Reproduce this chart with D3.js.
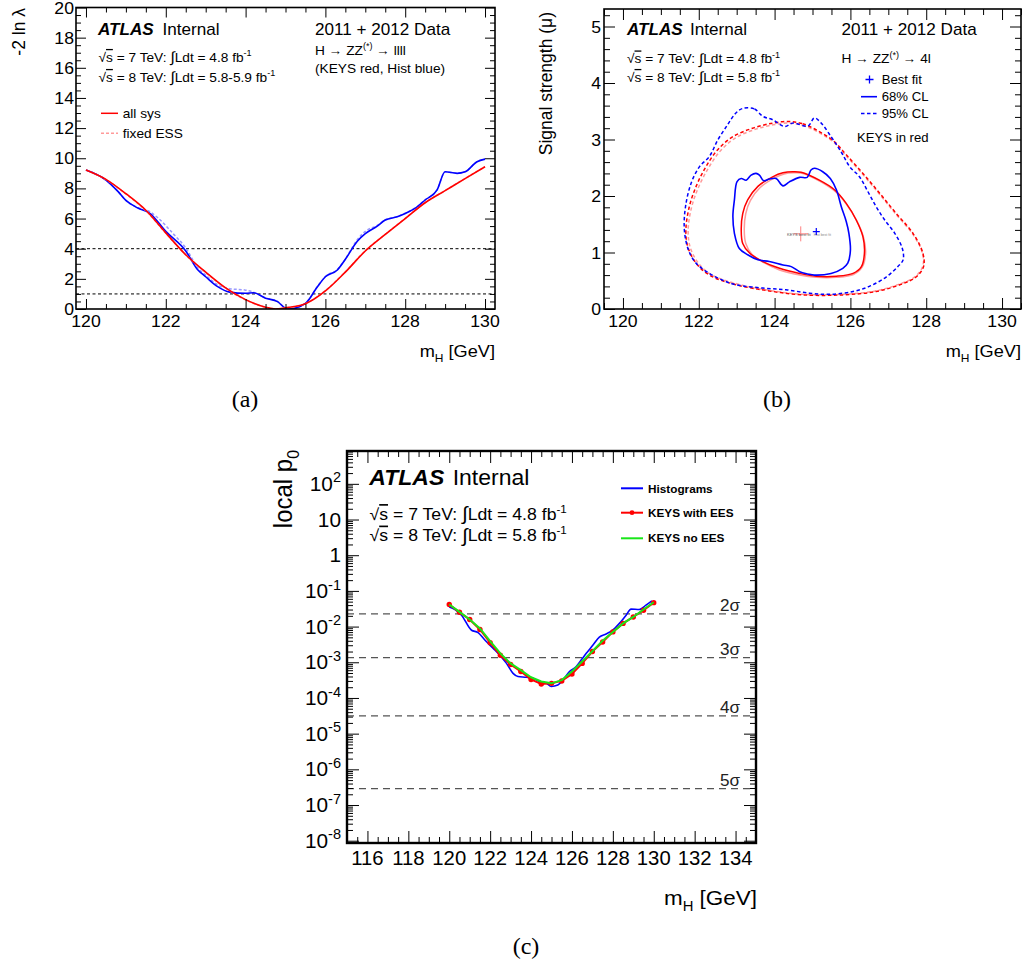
<!DOCTYPE html>
<html><head><meta charset="utf-8">
<script src="https://cdn.jsdelivr.net/npm/d3@7"></script>
<style>
body{margin:0;background:#fff}
svg{display:block}
text{font-family:"Liberation Sans",Arial,Helvetica,sans-serif}
</style>
</head><body>
<svg id="fig" width="1028" height="967"></svg>
<script>
// ---------------- (a) profile likelihood scan, -2 ln lambda vs mH ----------------
const scanKeysAllSys = [[120,9.22],[120.5,8.6],[121,7.65],[121.5,6.55],[122,5.05],[122.5,3.6],[123,2.45],[123.5,1.4],[124,0.62],[124.5,0.12],[124.75,0.0],[125,0.08],[125.5,0.35],[126,1.2],[126.5,2.45],[127,3.85],[127.5,4.95],[128,6.0],[128.5,7.05],[129,7.85],[129.5,8.65],[130,9.44]];
const scanKeysFixedESS = [[120,9.22],[120.5,8.58],[121,7.62],[121.5,6.52],[122,5.02],[122.5,3.58],[123,2.42],[123.5,1.38],[124,0.6],[124.5,0.12],[124.75,0.0],[125,0.08],[125.5,0.36],[126,1.22],[126.5,2.47],[127,3.87],[127.5,4.95],[128,6.02],[128.5,7.06],[129,7.86],[129.5,8.66],[130,9.44]];
const scanHistAllSys = [[120,9.22],[120.5,8.55],[120.8,7.8],[121,7.2],[121.3,6.7],[121.6,6.35],[122,5.15],[122.5,3.85],[122.8,2.6],[123,2.14],[123.3,1.48],[123.6,1.12],[124,1.04],[124.2,1.08],[124.5,0.72],[124.8,0.49],[125,0.05],[125.1,0.0],[125.5,0.37],[125.8,1.48],[126,2.14],[126.3,2.59],[126.5,3.3],[126.8,4.5],[127,5.0],[127.3,5.5],[127.5,5.9],[127.8,6.12],[128,6.34],[128.3,6.78],[128.5,7.23],[128.8,7.9],[129,9.1],[129.3,9.0],[129.5,9.1],[129.8,9.77],[130,9.94]];
const scanHistFixedESS = [[120,9.22],[120.5,8.55],[120.8,7.8],[121,7.2],[121.3,6.72],[121.6,6.45],[121.8,6.05],[122.2,4.95],[122.5,4.05],[122.8,2.75],[123,2.25],[123.3,1.6],[123.6,1.35],[124,1.25],[124.2,1.12],[124.5,0.74],[124.8,0.5],[125,0.06],[125.1,0.0],[125.5,0.38],[125.8,1.5],[126,2.16],[126.3,2.62],[126.5,3.32],[126.8,4.6],[127,5.15],[127.3,5.55],[127.5,5.92],[127.8,6.13],[128,6.35],[128.3,6.8],[128.5,7.25],[128.8,7.92],[129,9.1],[129.3,9.02],[129.5,9.1],[129.8,9.78],[130,9.95]];
const scanReferenceLevels = [4, 1];

// ---------------- (b) signal strength vs mH contours ----------------
const histContour68 = [[123.01,2.255],[123.12,2.31],[123.25,2.28],[123.38,2.37],[123.51,2.40],[123.6,2.37],[123.71,2.27],[123.86,2.30],[124.04,2.31],[124.22,2.18],[124.39,2.25],[124.66,2.33],[124.86,2.33],[124.96,2.46],[125.05,2.49],[125.27,2.43],[125.47,2.31],[125.63,2.11],[125.76,1.81],[125.89,1.55],[125.96,1.34],[126.0,1.04],[125.93,0.81],[125.8,0.72],[125.49,0.63],[125.05,0.60],[124.88,0.62],[124.66,0.66],[124.44,0.75],[124.22,0.78],[123.86,0.84],[123.56,0.87],[123.29,0.96],[123.07,1.07],[122.94,1.34],[122.9,1.64],[122.94,1.93]];
const histContour95 = [[123.16,3.55],[123.47,3.54],[123.69,3.41],[123.95,3.35],[124.26,3.23],[124.48,3.29],[124.88,3.24],[125.05,3.38],[125.23,3.29],[125.49,3.05],[125.67,2.87],[125.8,2.73],[125.98,2.52],[126.24,2.34],[126.46,2.08],[126.68,1.81],[126.9,1.58],[127.17,1.34],[127.37,1.07],[127.39,0.87],[127.25,0.75],[126.95,0.57],[126.5,0.40],[126.07,0.31],[125.45,0.26],[124.92,0.28],[124.3,0.34],[123.69,0.37],[122.98,0.43],[122.63,0.51],[122.28,0.63],[121.93,0.81],[121.73,1.04],[121.62,1.40],[121.65,1.81],[121.8,2.23],[122.02,2.52],[122.28,2.70],[122.5,2.99],[122.76,3.26],[122.98,3.47]];
const keysContour68 = [[124.48,2.43],[124.7,2.42],[125.18,2.28],[125.58,2.11],[125.89,1.87],[126.15,1.58],[126.33,1.28],[126.37,0.99],[126.29,0.75],[126.07,0.63],[125.63,0.58],[125.1,0.58],[124.66,0.63],[124.13,0.72],[123.69,0.84],[123.34,0.99],[123.16,1.16],[123.12,1.40],[123.16,1.69],[123.29,1.93],[123.56,2.17],[123.95,2.34],[124.22,2.41]];
const keysContour68Alt = [[124.5,2.41],[124.75,2.40],[125.2,2.26],[125.6,2.08],[125.9,1.85],[126.17,1.56],[126.35,1.26],[126.4,0.98],[126.31,0.74],[126.08,0.61],[125.63,0.56],[125.1,0.56],[124.66,0.60],[124.13,0.69],[123.72,0.82],[123.4,0.97],[123.24,1.16],[123.2,1.40],[123.24,1.69],[123.36,1.92],[123.62,2.15],[124.0,2.32],[124.25,2.39]];
const keysContour95 = [[124.35,3.32],[124.74,3.28],[125.18,3.14],[125.58,2.96],[125.89,2.73],[126.33,2.40],[126.77,2.05],[127.21,1.69],[127.65,1.34],[127.91,0.99],[127.93,0.75],[127.74,0.57],[127.39,0.45],[126.68,0.31],[125.8,0.25],[124.74,0.25],[123.86,0.32],[122.98,0.43],[122.28,0.60],[121.93,0.81],[121.71,1.10],[121.66,1.40],[121.75,1.81],[121.93,2.17],[122.19,2.52],[122.5,2.82],[122.9,3.05],[123.42,3.20],[123.95,3.29]];
const keysContour95Alt = [[124.35,3.29],[124.74,3.25],[125.18,3.12],[125.58,2.94],[125.89,2.71],[126.33,2.38],[126.77,2.03],[127.21,1.67],[127.65,1.32],[127.9,0.99],[127.91,0.76],[127.72,0.58],[127.37,0.46],[126.66,0.32],[125.8,0.26],[124.74,0.26],[123.86,0.33],[122.98,0.45],[122.3,0.62],[121.97,0.83],[121.77,1.10],[121.72,1.40],[121.81,1.80],[121.99,2.15],[122.25,2.49],[122.56,2.79],[122.95,3.02],[123.45,3.17],[123.96,3.26]];
const histBestFit = [125.1, 1.37];
const keysBestFit = [124.69, 1.33];

// ---------------- (c) local p0 vs mH ----------------
const pMassKeys = [120,120.5,121,121.5,122,122.5,123,123.5,124,124.5,125,125.5,126,126.5,127,127.5,128,128.5,129,129.5,130];
const p0KeysWithEES = [0.0417,0.0251,0.0158,0.0083,0.00355,0.00158,0.00087,0.00055,0.00033,0.000245,0.000257,0.0003,0.00047,0.00093,0.0020,0.0037,0.0071,0.0123,0.0186,0.0288,0.0468];
const p0KeysNoEES = [0.0417,0.0259,0.0158,0.0089,0.0039,0.00178,0.00093,0.0006,0.00038,0.00029,0.000257,0.000316,0.00055,0.00105,0.00204,0.0040,0.0071,0.0123,0.0186,0.030,0.048];
const pMassHist = [120.0,120.28,120.6,121.09,121.41,121.74,122.15,122.47,122.8,123.12,123.36,123.77,124.09,124.42,124.75,124.99,125.31,125.56,125.88,126.21,126.45,126.7,127.02,127.34,127.67,127.99,128.32,128.65,128.89,129.29,129.62,129.91];
const p0Hist = [0.0355,0.0302,0.0209,0.0079,0.0068,0.0042,0.00245,0.00158,0.00093,0.00049,0.0004,0.00038,0.000355,0.00029,0.000257,0.00021,0.00023,0.000316,0.00055,0.00076,0.00115,0.00178,0.003,0.0051,0.0062,0.0079,0.0123,0.0209,0.0309,0.0302,0.0398,0.0525];
const sigmaLabels = ["2σ","3σ","4σ","5σ"];
const sigmaPValues = [0.02275, 0.00135, 3.167e-5, 2.867e-7];

// tick labels
const massTicksAB = [120,122,124,126,128,130];
const scanTicks = [0,2,4,6,8,10,12,14,16,18,20];
const muTicks = [0,1,2,3,4,5];
const massTicksC = [116,118,120,122,124,126,128,130,132,134];
const pDecades = [2,1,0,-1,-2,-3,-4,-5,-6,-7,-8];

// ---------------- drawing ----------------
const svg = d3.select('#fig');
const SX = 1.07;
const SERIF = '"Liberation Serif","DejaVu Serif",serif';
const BLUE = '#0000ff', RED = '#ff0000', PINK = '#ff9a9a', LBLUE = '#9a9aff', GREEN = '#19e619';

// text with super/subscripts, overline and an enlarged integral sign
function rich(parent, x, y, size, parts, opt = {}) {
  const sc = opt.rotate ? `rotate(-90) scale(1,${opt.sx ?? SX})` : `scale(${opt.sx ?? SX},1)`;
  const t = parent.append('text')
    .attr('transform', `translate(${x},${y}) ${sc}`)
    .attr('font-size', size)
    .attr('text-anchor', opt.anchor || 'start')
    .attr('fill', opt.fill || '#000');
  if (opt.family) t.style('font-family', opt.family);
  if (opt.weight) t.attr('font-weight', opt.weight);
  let shift = 0;
  parts.forEach(p => {
    const [s, k] = Array.isArray(p) ? p : [p, 'n'];
    const ts = t.append('tspan').text(s);
    let target = 0, fs = size;
    if (k === 'sup') { target = -0.42 * size; fs = (opt.supScale || 0.66) * size; }
    if (k === 'sub') { target = 0.28 * size; fs = 0.66 * size; }
    if (k === 'big') { target = 0.05 * size; fs = 1.15 * size; }
    if (target !== shift) ts.attr('dy', target - shift);
    if (fs !== size) ts.attr('font-size', fs);
    if (k === 'bi') ts.attr('font-weight', 'bold').attr('font-style', 'italic');
    if (k === 'ov') ts.attr('text-decoration', 'overline');
    shift = target;
  });
  return t;
}

function minorValues(domain, step, majors) {
  const out = [];
  const start = Math.ceil(domain[0] / step - 1e-9) * step;
  for (let v = start; v <= domain[1] + 1e-9; v += step) {
    if (!majors.some(m => Math.abs(m - v) < 1e-6)) out.push(+v.toFixed(6));
  }
  return out;
}

// inward ticks on all four sides using d3 axes
function frameAxes(g, x, y, xMaj, xMin, yMaj, yMin, majLen, minLen) {
  const [x0, x1] = x.range(), [y0, y1] = y.range();
  const put = (axis, tx, ty) => g.append('g').attr('transform', `translate(${tx},${ty})`)
    .call(axis).call(s => s.select('.domain').remove()).call(s => s.selectAll('text').remove());
  put(d3.axisBottom(x).tickValues(xMaj).tickSize(-majLen).tickFormat(''), 0, y0);
  put(d3.axisBottom(x).tickValues(xMin).tickSize(-minLen).tickFormat(''), 0, y0);
  put(d3.axisTop(x).tickValues(xMaj).tickSize(-majLen).tickFormat(''), 0, y1);
  put(d3.axisTop(x).tickValues(xMin).tickSize(-minLen).tickFormat(''), 0, y1);
  put(d3.axisLeft(y).tickValues(yMaj).tickSize(-majLen).tickFormat(''), x0, 0);
  put(d3.axisLeft(y).tickValues(yMin).tickSize(-minLen).tickFormat(''), x0, 0);
  put(d3.axisRight(y).tickValues(yMaj).tickSize(-majLen).tickFormat(''), x1, 0);
  put(d3.axisRight(y).tickValues(yMin).tickSize(-minLen).tickFormat(''), x1, 0);
}

function panelFrame(id, x, y, width) {
  const [x0, x1] = x.range(), [y0, y1] = y.range();
  svg.append('clipPath').attr('id', id).append('rect')
    .attr('x', x0).attr('y', y1).attr('width', x1 - x0).attr('height', y0 - y1);
  return () => svg.append('rect').attr('x', x0).attr('y', y1).attr('width', x1 - x0).attr('height', y0 - y1)
    .attr('fill', 'none').attr('stroke', '#000').attr('stroke-width', width);
}

function sqrtS(energy, lumi) {
  return [['√', 'n'], ['s', 'ov'], ` = ${energy} TeV: `, ['∫', 'big'], `Ldt = ${lumi} fb`, ['-1', 'sup']];
}

// ======== panel (a) ========
{
  const x = d3.scaleLinear().domain([119.75, 130.25]).range([76, 495]);
  const y = d3.scaleLinear().domain([0, 20]).range([309, 7.5]);
  const drawFrame = panelFrame('clipA', x, y, 1.6);
  const g = svg.append('g');
  const plot = g.append('g').attr('clip-path', 'url(#clipA)');

  // reference levels
  plot.selectAll('line.ref').data(scanReferenceLevels).join('line')
    .attr('x1', x.range()[0]).attr('x2', x.range()[1])
    .attr('y1', d => y(d)).attr('y2', d => y(d))
    .attr('stroke', '#000').attr('stroke-width', 1).attr('stroke-dasharray', '3,2.5');

  const line = d3.line().x(d => x(d[0])).y(d => y(d[1])).curve(d3.curveMonotoneX);
  plot.append('path').datum(scanHistFixedESS).attr('d', line).attr('fill', 'none')
    .attr('stroke', LBLUE).attr('stroke-width', 1.5).attr('stroke-dasharray', '3,2');
  plot.append('path').datum(scanHistAllSys).attr('d', line).attr('fill', 'none')
    .attr('stroke', BLUE).attr('stroke-width', 1.6);
  plot.append('path').datum(scanKeysFixedESS).attr('d', line).attr('fill', 'none')
    .attr('stroke', PINK).attr('stroke-width', 1.5).attr('stroke-dasharray', '3,2');
  plot.append('path').datum(scanKeysAllSys).attr('d', line).attr('fill', 'none')
    .attr('stroke', RED).attr('stroke-width', 1.6);

  frameAxes(g, x, y, massTicksAB, minorValues(x.domain(), 0.5, massTicksAB),
    scanTicks, minorValues(y.domain(), 0.5, scanTicks), 10, 5);
  drawFrame();

  massTicksAB.forEach(v => rich(g, x(v), 327, 16.5, [String(v)], { anchor: 'middle' }));
  scanTicks.forEach(v => rich(g, 74, y(v) + 6, 16.5, [String(v)], { anchor: 'end' }));

  rich(g, 25, 8, 17.5, ['-2 ln λ'], { rotate: true, anchor: 'end' });
  rich(g, 495, 357, 17, ['m', ['H', 'sub'], ' [GeV]'], { anchor: 'end' });

  rich(g, 98, 34.5, 16, [['ATLAS', 'bi']]);
  rich(g, 162.5, 34.5, 16, ['Internal']);
  rich(g, 98.5, 61.5, 12.8, sqrtS(7, '4.8'));
  rich(g, 98.5, 81.5, 12.8, sqrtS(8, '5.8-5.9'));
  rich(g, 315, 35, 16, ['2011 + 2012 Data']);
  rich(g, 315, 54.5, 12.8, ['H → ZZ', ['(*)', 'sup'], ' → llll']);
  rich(g, 315, 73, 12.8, ['(KEYS red, Hist blue)']);

  // legend
  g.append('line').attr('x1', 101).attr('x2', 118).attr('y1', 113.3).attr('y2', 113.3)
    .attr('stroke', RED).attr('stroke-width', 1.5);
  rich(g, 122.7, 117.5, 12.8, ['all sys']);
  g.append('line').attr('x1', 101).attr('x2', 118).attr('y1', 133.3).attr('y2', 133.3)
    .attr('stroke', PINK).attr('stroke-width', 1.5).attr('stroke-dasharray', '3,2');
  rich(g, 122.7, 138, 12.8, ['fixed ESS']);

  rich(svg, 245, 407, 24, ['(a)'], { anchor: 'middle', family: SERIF, sx: 1 });
}

// ======== panel (b) ========
{
  const x = d3.scaleLinear().domain([119.5, 130.5]).range([604, 1021]);
  const y = d3.scaleLinear().domain([0, 5.31]).range([309, 9]);
  const drawFrame = panelFrame('clipB', x, y, 1.6);
  const g = svg.append('g');
  const plot = g.append('g').attr('clip-path', 'url(#clipB)');
  const loop = d3.line().x(d => x(d[0])).y(d => y(d[1])).curve(d3.curveCatmullRomClosed.alpha(0.5));

  const contour = (data, color, dashed, w) => plot.append('path').datum(data).attr('d', loop)
    .attr('fill', 'none').attr('stroke', color).attr('stroke-width', w)
    .attr('stroke-dasharray', dashed ? '3.5,2.5' : null);
  contour(keysContour95Alt, PINK, true, 1.5);
  contour(keysContour95, RED, true, 1.5);
  contour(histContour95, BLUE, true, 1.5);
  contour(keysContour68Alt, PINK, false, 1.5);
  contour(keysContour68, RED, false, 1.5);
  contour(histContour68, BLUE, false, 1.6);

  const cross = (c, half, color, w) => plot.append('path')
    .attr('d', `M${x(c[0]) - half},${y(c[1])}h${2 * half}M${x(c[0])},${y(c[1]) - half}v${2 * half}`)
    .attr('stroke', color).attr('stroke-width', w).attr('fill', 'none');
  cross(keysBestFit, 7.5, '#ff8080', 1);
  rich(plot, x(keysBestFit[0]) - 2, y(keysBestFit[1]) + 2.5, 4, ['KEYS best fit'], { anchor: 'middle', fill: '#555', sx: 1 });
  rich(plot, x(histBestFit[0]) + 6, y(histBestFit[1]) + 4, 3.5, ['Hist best fit'], { anchor: 'middle', fill: '#888', sx: 1 });
  cross(histBestFit, 3.5, BLUE, 1.2);

  frameAxes(g, x, y, massTicksAB, minorValues(x.domain(), 0.5, massTicksAB),
    muTicks, minorValues(y.domain(), 0.2, muTicks), 11, 6);
  drawFrame();

  massTicksAB.forEach(v => rich(g, x(v), 327, 16.5, [String(v)], { anchor: 'middle' }));
  muTicks.forEach(v => rich(g, 601, y(v) + 6, 16.5, [String(v)], { anchor: 'end' }));

  rich(g, 552, 12, 17.5, ['Signal strength (μ)'], { rotate: true, anchor: 'end' });
  rich(g, 1021, 357, 17, ['m', ['H', 'sub'], ' [GeV]'], { anchor: 'end' });

  rich(g, 627, 35, 16, [['ATLAS', 'bi']]);
  rich(g, 690, 35, 16, ['Internal']);
  rich(g, 627, 63, 12.8, sqrtS(7, '4.8'));
  rich(g, 627, 81.5, 12.8, sqrtS(8, '5.8'));
  rich(g, 841.5, 35, 16, ['2011 + 2012 Data']);
  rich(g, 841.5, 63, 12.8, ['H → ZZ', ['(*)', 'sup'], ' → 4l']);

  // legend
  g.append('path').attr('d', 'M865.5,79.5h8M869.5,75.5v8').attr('stroke', BLUE).attr('stroke-width', 1.3);
  rich(g, 881.7, 84, 12.3, ['Best fit']);
  g.append('line').attr('x1', 861).attr('x2', 877).attr('y1', 96.7).attr('y2', 96.7)
    .attr('stroke', BLUE).attr('stroke-width', 1.6);
  rich(g, 881.7, 101, 12.3, ['68% CL']);
  g.append('line').attr('x1', 861).attr('x2', 877).attr('y1', 113.5).attr('y2', 113.5)
    .attr('stroke', BLUE).attr('stroke-width', 1.6).attr('stroke-dasharray', '3.5,2.5');
  rich(g, 881.7, 118, 12.3, ['95% CL']);
  rich(g, 857, 142, 12.3, ['KEYS in red']);

  rich(svg, 777, 407, 24, ['(b)'], { anchor: 'middle', family: SERIF, sx: 1 });
}

// ======== panel (c) ========
{
  const x = d3.scaleLinear().domain([115, 135]).range([347, 756]);
  const y = d3.scaleLog().domain([Math.pow(10, -8.064), Math.pow(10, 2.92)]).range([843, 451]);
  const drawFrame = panelFrame('clipC', x, y, 2.4);
  const g = svg.append('g');
  const plot = g.append('g').attr('clip-path', 'url(#clipC)');

  plot.selectAll('line.sig').data(sigmaPValues).join('line')
    .attr('x1', x.range()[0]).attr('x2', x.range()[1])
    .attr('y1', d => y(d)).attr('y2', d => y(d))
    .attr('stroke', '#555').attr('stroke-width', 1.3).attr('stroke-dasharray', '7,5');
  sigmaPValues.forEach((p, i) => rich(g, 740, y(p) - 2.5, 16, [sigmaLabels[i]], { anchor: 'end', fill: '#222' }));

  const line = d3.line().x(d => x(d[0])).y(d => y(d[1]));
  const hist = pMassHist.map((m, i) => [m, p0Hist[i]]);
  const withEES = pMassKeys.map((m, i) => [m, p0KeysWithEES[i]]);
  const noEES = pMassKeys.map((m, i) => [m, p0KeysNoEES[i]]);

  plot.append('path').datum(hist).attr('d', line.curve(d3.curveMonotoneX)).attr('fill', 'none')
    .attr('stroke', BLUE).attr('stroke-width', 1.6);
  plot.append('path').datum(withEES).attr('d', line.curve(d3.curveLinear)).attr('fill', 'none')
    .attr('stroke', RED).attr('stroke-width', 2);
  plot.selectAll('circle.ees').data(withEES).join('circle')
    .attr('cx', d => x(d[0])).attr('cy', d => y(d[1])).attr('r', 2.7).attr('fill', RED);
  plot.append('path').datum(noEES).attr('d', line.curve(d3.curveLinear)).attr('fill', 'none')
    .attr('stroke', GREEN).attr('stroke-width', 2);

  const yMaj = pDecades.map(k => Math.pow(10, k));
  const yMin = [];
  for (let k = -9; k <= 2; k++) for (let m = 2; m <= 9; m++) {
    const v = m * Math.pow(10, k);
    if (v >= y.domain()[0] && v <= y.domain()[1]) yMin.push(v);
  }
  frameAxes(g, x, y, massTicksC, minorValues(x.domain(), 0.5, massTicksC), yMaj, yMin, 12, 6);
  drawFrame();

  massTicksC.forEach(v => rich(g, x(v), 865, 19.5, [String(v)], { anchor: 'middle', sx: 1.04 }));
  pDecades.forEach(k => {
    const parts = k === 0 ? ['1'] : k === 1 ? ['10'] : ['10', [String(k), 'sup']];
    rich(g, 341, y(Math.pow(10, k)) + 7, 20, parts, { anchor: 'end', supScale: 0.7, sx: 1.04 });
  });

  rich(g, 292, 450, 24, ['local p', ['0', 'sub']], { rotate: true, anchor: 'end', sx: 1.05 });
  rich(g, 757, 905, 21, ['m', ['H', 'sub'], ' [GeV]'], { anchor: 'end' });

  rich(g, 369.3, 484.5, 21.5, [['ATLAS', 'bi']]);
  rich(g, 452.7, 484.5, 21.5, ['Internal']);
  rich(g, 369.5, 519.5, 16.5, sqrtS(7, '4.8'));
  rich(g, 369.5, 541, 16.5, sqrtS(8, '5.8'));

  // legend
  const leg = [['Histograms', BLUE, false, 488.3, 493], ['KEYS with EES', RED, true, 512.7, 517], ['KEYS no EES', GREEN, false, 538.3, 542]];
  leg.forEach(([label, color, dot, ly, ty]) => {
    g.append('line').attr('x1', 621).attr('x2', 643).attr('y1', ly).attr('y2', ly)
      .attr('stroke', color).attr('stroke-width', 2);
    if (dot) g.append('circle').attr('cx', 632).attr('cy', ly).attr('r', 2.4).attr('fill', color);
    rich(g, 648, ty, 11, [label], { weight: 'bold' });
  });

  rich(svg, 526, 954, 24, ['(c)'], { anchor: 'middle', family: SERIF, sx: 1 });
}
</script>
</body></html>
